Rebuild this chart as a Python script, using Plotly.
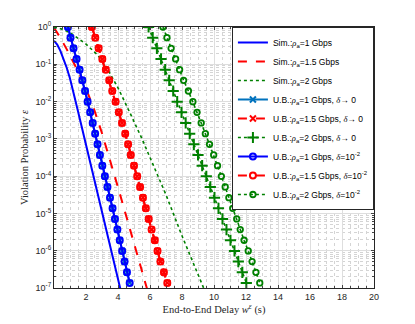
import plotly.graph_objects as go

# --- Simulation curves (delay in s, violation probability) ---
sim1_x = [0, 0.2, 0.4, 0.6, 0.8, 1.0, 1.2, 1.5, 2.0, 2.5, 3.0, 3.5, 4.0, 4.2]
sim1_y = [0.427, 0.339, 0.229, 0.138, 0.0794, 0.0417, 0.0191, 5.50e-3, 6.92e-4,
          8.71e-5, 1.10e-5, 1.38e-6, 1.74e-7, 7.59e-8]

sim15_x = [0, 0.4, 0.8, 1.2, 1.6, 2.0, 2.5, 3.0, 3.5, 4.0, 4.5, 5.0, 5.5, 5.9]
sim15_y = [0.955, 0.513, 0.251, 0.120, 0.0537, 0.0224, 6.31e-3, 1.41e-3, 2.82e-4,
           5.01e-5, 8.91e-6, 1.58e-6, 2.82e-7, 7.08e-8]

sim2_x = [0, 0.6, 1.0, 1.6, 2.0, 2.7, 3.0, 3.4, 4.0, 4.8, 5.5, 6.2, 7.0, 8.0, 9.0, 9.4]
sim2_y = [1.0, 0.851, 0.708, 0.468, 0.347, 0.182, 0.126, 0.0676, 0.0234, 4.47e-3,
          1.0e-3, 2.0e-4, 3.16e-5, 2.51e-6, 2.24e-7, 8.91e-8]

# --- Upper bounds (same epsilon grid for every bound) ---
ub_eps = [1.0, 0.518, 0.268, 0.139, 0.0718, 0.0372, 0.0192, 0.00995, 0.00515,
          0.00267, 0.00138, 7.14e-4, 3.70e-4, 1.91e-4, 9.91e-5, 5.13e-5, 2.65e-5,
          1.37e-5, 7.11e-6, 3.68e-6, 1.91e-6, 9.86e-7, 5.11e-7, 2.64e-7, 1.37e-7]

ub1_x = [0.87, 1.03, 1.22, 1.41, 1.6, 1.77, 1.94, 2.1, 2.26, 2.42, 2.57, 2.72, 2.87,
         3.02, 3.18, 3.34, 3.5, 3.66, 3.81, 3.96, 4.11, 4.26, 4.41, 4.56, 4.73]
ub15_x = [2.37, 2.58, 2.79, 3.02, 3.24, 3.45, 3.64, 3.85, 4.05, 4.25, 4.45, 4.63, 4.8,
          5.0, 5.2, 5.38, 5.56, 5.74, 5.92, 6.1, 6.3, 6.47, 6.65, 6.87, 7.08]
ub2_x_d0 = [5.91, 6.17, 6.43, 6.69, 6.95, 7.2, 7.45, 7.7, 7.97, 8.23, 8.48, 8.74, 9.0,
            9.26, 9.52, 9.77, 10.03, 10.28, 10.53, 10.78, 11.03, 11.28, 11.52, 11.77, 12.02]
ub2_x_d2 = [6.81, 7.06, 7.32, 7.6, 7.85, 8.1, 8.4, 8.68, 8.94, 9.2, 9.46, 9.72, 9.98,
            10.22, 10.46, 10.7, 10.93, 11.17, 11.42, 11.64, 11.88, 12.14, 12.38, 12.62, 12.86]

x_ticks = [2, 4, 6, 8, 10, 12, 14, 16, 18, 20]
y_ticks = [1e-7, 1e-6, 1e-5, 1e-4, 1e-3, 1e-2, 1e-1, 1]
y_ticktext = ["10<sup>-7</sup>", "10<sup>-6</sup>", "10<sup>-5</sup>", "10<sup>-4</sup>",
              "10<sup>-3</sup>", "10<sup>-2</sup>", "10<sup>-1</sup>", "10<sup>0</sup>"]

BLUE = "#0000FF"
LBLUE = "#0072BD"
RED = "#FF0000"
GREEN = "#008000"

rho = '<span style="font-family:Liberation Serif"><i>ρ</i></span><sub>a</sub>'
dlt = '<span style="font-family:Liberation Serif"><i>δ</i></span>'

fig = go.Figure()

# simulations
fig.add_trace(go.Scatter(x=sim1_x, y=sim1_y, mode="lines", name="Sim.:" + rho + "=1 Gbps",
                         line=dict(color=BLUE, width=2)))
fig.add_trace(go.Scatter(x=sim15_x, y=sim15_y, mode="lines", name="Sim.:" + rho + "=1.5 Gbps",
                         line=dict(color=RED, width=2, dash="dash")))
fig.add_trace(go.Scatter(x=sim2_x, y=sim2_y, mode="lines", name="Sim.:" + rho + "=2 Gbps",
                         line=dict(color=GREEN, width=1.6, dash="dot")))

# bounds, delta -> 0
fig.add_trace(go.Scatter(x=ub1_x, y=ub_eps, mode="lines+markers",
                         name="U.B.:" + rho + "=1 Gbps, " + dlt + "→ 0",
                         line=dict(color=LBLUE, width=2),
                         marker=dict(symbol="x-thin-open", size=6, color=LBLUE,
                                     line=dict(width=2, color=LBLUE))))
fig.add_trace(go.Scatter(x=ub15_x, y=ub_eps, mode="lines+markers",
                         name="U.B.:" + rho + "=1.5 Gbps, " + dlt + "→ 0",
                         line=dict(color=RED, width=2, dash="dash"),
                         marker=dict(symbol="x-thin-open", size=6, color=RED,
                                     line=dict(width=2, color=RED))))
fig.add_trace(go.Scatter(x=ub2_x_d0, y=ub_eps, mode="lines+markers",
                         name="U.B.:" + rho + "=2 Gbps, " + dlt + "→ 0",
                         line=dict(color=GREEN, width=1.6, dash="dot"),
                         marker=dict(symbol="cross-thin-open", size=8, color=GREEN,
                                     line=dict(width=2, color=GREEN))))

# bounds, delta = 1e-2
fig.add_trace(go.Scatter(x=ub1_x, y=ub_eps, mode="lines+markers",
                         name="U.B.:" + rho + "=1 Gbps, " + dlt + "=10<sup>-2</sup>",
                         line=dict(color=BLUE, width=2),
                         marker=dict(symbol="circle-open", size=6, color=BLUE,
                                     line=dict(width=2, color=BLUE))))
fig.add_trace(go.Scatter(x=ub15_x, y=ub_eps, mode="lines+markers",
                         name="U.B.:" + rho + "=1.5 Gbps, " + dlt + "=10<sup>-2</sup>",
                         line=dict(color=RED, width=2, dash="dash"),
                         marker=dict(symbol="circle-open", size=6, color=RED,
                                     line=dict(width=2, color=RED))))
fig.add_trace(go.Scatter(x=ub2_x_d2, y=ub_eps, mode="lines+markers",
                         name="U.B.:" + rho + "=2 Gbps, " + dlt + "=10<sup>-2</sup>",
                         line=dict(color=GREEN, width=1.6, dash="dot"),
                         marker=dict(symbol="circle-open", size=5.5, color=GREEN,
                                     line=dict(width=1.8, color=GREEN))))

minor_y = [m * 10.0 ** e for e in range(-7, 0) for m in range(2, 10)]

# page body adds an 8px offset, so the margins are shifted to compensate
fig.update_layout(
    width=415, height=324,
    margin=dict(l=46, r=49, t=16, b=44),
    paper_bgcolor="white", plot_bgcolor="white",
    font=dict(family="Liberation Sans, Arial", size=9, color="#262626"),
    showlegend=True,
    legend=dict(x=0.556, y=1, xanchor="left", yanchor="top",
                bgcolor="white", bordercolor="#262626", borderwidth=1,
                font=dict(size=8.5, color="#000000"), itemwidth=30,
                tracegroupgap=0),
    xaxis=dict(
        range=[0, 20], tickvals=x_ticks, ticks="inside", ticklen=3,
        showline=True, linecolor="#262626", linewidth=1, mirror="ticks",
        showgrid=True, gridcolor="#dedede", gridwidth=1, zeroline=False,
        tickfont=dict(size=9, color="#262626"),
        minor=dict(dtick=0.5, ticks="inside", ticklen=2, showgrid=True,
                   gridcolor="#d4d4d4", griddash="dot", gridwidth=0.6),
        title=dict(text="End-to-End Delay <i>w</i><sup><i>ε</i></sup> (s)",
                   font=dict(family="Liberation Serif, Times New Roman", size=10.5,
                             color="#262626"), standoff=4),
    ),
    yaxis=dict(
        type="log", range=[-7, 0], tickvals=y_ticks, ticktext=y_ticktext,
        ticks="inside", ticklen=3,
        showline=True, linecolor="#262626", linewidth=1, mirror="ticks",
        showgrid=True, gridcolor="#dedede", gridwidth=1, zeroline=False,
        tickfont=dict(size=9, color="#262626"),
        minor=dict(tickvals=minor_y, ticks="inside", ticklen=2, showgrid=True,
                   gridcolor="#d4d4d4", griddash="dot", gridwidth=0.6),
        title=dict(text="Violation Probability <i>ε</i>",
                   font=dict(family="Liberation Serif, Times New Roman", size=10.5,
                             color="#262626"), standoff=4),
    ),
)

fig.write_html("out.html")
